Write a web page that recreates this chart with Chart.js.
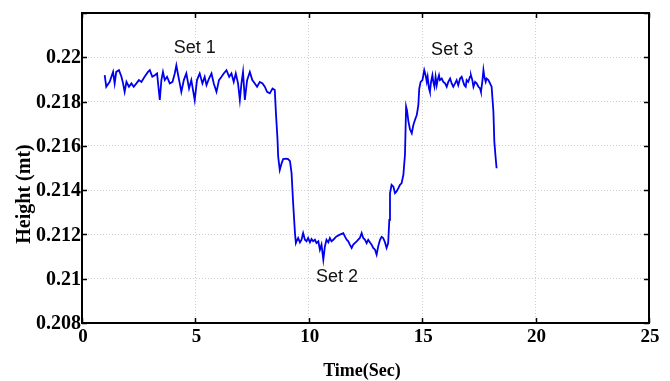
<!DOCTYPE html>
<html>
<head>
<meta charset="utf-8">
<title>Height vs Time</title>
<script src="https://cdn.jsdelivr.net/npm/chart.js@4.4.1/dist/chart.umd.min.js"></script>
<style>
    html, body { margin: 0; padding: 0; background: #ffffff; }
    #wrap { width: 670px; height: 381px; }
</style>
</head>
<body>
<div id="wrap"><canvas id="heightChart" width="670" height="381"></canvas></div>
<script>
    const timeSec = [
        1.00, 1.07, 1.22, 1.37, 1.44, 1.51, 1.63, 1.74, 1.81, 1.88, 1.96, 2.07, 2.18, 2.28, 2.40, 2.51,
        2.62, 2.76, 2.91, 2.99, 3.10, 3.21, 3.31, 3.43, 3.50, 3.57, 3.65, 3.75, 3.87, 3.99, 4.09, 4.16,
        4.24, 4.31, 4.38, 4.49, 4.60, 4.72, 4.82, 4.97, 5.07, 5.19, 5.31, 5.41, 5.49, 5.60, 5.71, 5.81,
        5.93, 6.04, 6.15, 6.25, 6.37, 6.49, 6.59, 6.69, 6.78, 6.88, 6.96, 7.03, 7.10, 7.18, 7.28, 7.40,
        7.51, 7.62, 7.72, 7.84, 7.96, 8.06, 8.16, 8.28, 8.40, 8.50, 8.55, 8.62, 8.65, 8.72, 8.80, 8.87,
        9.00, 9.09, 9.17, 9.24, 9.31, 9.39, 9.43, 9.46, 9.53, 9.61, 9.68, 9.75, 9.83, 9.90, 9.97, 10.05,
        10.12, 10.19, 10.27, 10.34, 10.42, 10.49, 10.56, 10.64, 10.71, 10.78, 10.86, 10.93, 11.00, 11.08,
        11.22, 11.37, 11.52, 11.59, 11.67, 11.74, 11.81, 11.89, 11.96, 12.11, 12.25, 12.33, 12.40, 12.48,
        12.55, 12.62, 12.70, 12.77, 12.84, 12.92, 12.99, 13.06, 13.14, 13.21, 13.28, 13.36, 13.43, 13.50,
        13.55, 13.58, 13.65, 13.73, 13.80, 13.87, 13.95, 14.02, 14.09, 14.17, 14.24, 14.29, 14.33, 14.39,
        14.46, 14.54, 14.61, 14.68, 14.76, 14.83, 14.87, 14.93, 15.01, 15.05, 15.09, 15.15, 15.20, 15.24,
        15.30, 15.34, 15.39, 15.45, 15.49, 15.54, 15.59, 15.64, 15.68, 15.74, 15.78, 15.86, 15.93, 16.01,
        16.08, 16.15, 16.23, 16.30, 16.37, 16.45, 16.52, 16.59, 16.67, 16.74, 16.81, 16.86, 16.92, 16.96,
        17.03, 17.11, 17.15, 17.21, 17.26, 17.33, 17.40, 17.48, 17.55, 17.59, 17.65, 17.70, 17.74, 17.80,
        17.84, 17.92, 17.99, 18.06, 18.14, 18.18, 18.24, 18.28
    ];
    const heightM = [
        0.21919, 0.21867, 0.21889, 0.21934, 0.21882, 0.21934, 0.21942, 0.21912, 0.21882, 0.21844, 0.21889, 0.21867, 0.21882, 0.21867, 0.21882, 0.21897,
        0.21889, 0.21912, 0.21934, 0.21942, 0.21912, 0.21919, 0.21927, 0.21807, 0.21897, 0.21934, 0.21897, 0.21912, 0.21882, 0.21889, 0.21927, 0.21964,
        0.21919, 0.21882, 0.21844, 0.21897, 0.21927, 0.21859, 0.21897, 0.21807, 0.21897, 0.21927, 0.21882, 0.21912, 0.21874, 0.21904, 0.21927, 0.21882,
        0.21844, 0.21897, 0.21912, 0.21927, 0.21942, 0.21912, 0.21927, 0.21889, 0.21927, 0.21882, 0.21807, 0.21882, 0.21934, 0.21807, 0.21897, 0.21934,
        0.21897, 0.21882, 0.21867, 0.21889, 0.21882, 0.21867, 0.21844, 0.21837, 0.21859, 0.21852, 0.21750, 0.21630, 0.21551, 0.21491, 0.21521, 0.21540,
        0.21542, 0.21540, 0.21531, 0.21477, 0.21341, 0.21206, 0.21161, 0.21169, 0.21184, 0.21164, 0.21176, 0.21206, 0.21176, 0.21169, 0.21184, 0.21164,
        0.21179, 0.21169, 0.21176, 0.21161, 0.21169, 0.21131, 0.21154, 0.21086, 0.21146, 0.21176, 0.21164, 0.21184, 0.21169, 0.21176,
        0.21191, 0.21199, 0.21206, 0.21191, 0.21176, 0.21169, 0.21154, 0.21139, 0.21154, 0.21169, 0.21184, 0.21206, 0.21184, 0.21176,
        0.21161, 0.21176, 0.21164, 0.21154, 0.21139, 0.21131, 0.21109, 0.21146, 0.21176, 0.21189, 0.21184, 0.21164, 0.21139, 0.21161,
        0.21266, 0.21386, 0.21424, 0.21416, 0.21386, 0.21394, 0.21409, 0.21424, 0.21431, 0.21469, 0.21560, 0.21777, 0.21760, 0.21712,
        0.21675, 0.21657, 0.21694, 0.21717, 0.21739, 0.21784, 0.21859, 0.21889, 0.21897, 0.21919, 0.21942, 0.21919, 0.21889, 0.21912,
        0.21859, 0.21844, 0.21889, 0.21919, 0.21889, 0.21867, 0.21912, 0.21874, 0.21897, 0.21919, 0.21897, 0.21904, 0.21889, 0.21882,
        0.21867, 0.21889, 0.21904, 0.21882, 0.21867, 0.21882, 0.21897, 0.21874, 0.21904, 0.21912, 0.21889, 0.21874, 0.21867, 0.21897,
        0.21889, 0.21912, 0.21919, 0.21897, 0.21867, 0.21889, 0.21882, 0.21867, 0.21859, 0.21844, 0.21889, 0.21942, 0.21912, 0.21889,
        0.21904, 0.21897, 0.21882, 0.21867, 0.21754, 0.21619, 0.21544, 0.21499
    ];

    // Axis ticks and labels (MATLAB leaves the top 0.222 tick unlabelled)
    const xTicks = [0, 5, 10, 15, 20, 25];
    const xTickLabels = ['0', '5', '10', '15', '20', '25'];
    const yTicks = [0.208, 0.210, 0.212, 0.214, 0.216, 0.218, 0.220, 0.222];
    const yTickLabels = ['0.208', '0.21', '0.212', '0.214', '0.216', '0.218', '0.22', ''];

    // In-plot annotations
    const setNames = ['Set 1', 'Set 2', 'Set 3'];
    const setTime = [4.97, 11.24, 16.32];
    const setHeight = [0.2204, 0.21009, 0.22035];

    const SERIF = '"Liberation Serif", "Times New Roman", serif';
    const SANS = '"Liberation Sans", Arial, sans-serif';

    // MATLAB-like frame: box, inward ticks, tick labels, axis titles, set labels
    const matlabFrame = {
        id: 'matlabFrame',
        afterDatasetsDraw(chart) {
            const ctx = chart.ctx;
            const a = chart.chartArea;
            const xs = chart.scales.x;
            const ys = chart.scales.y;

            ctx.save();
            ctx.strokeStyle = '#000000';
            ctx.lineWidth = 1.5;
            ctx.beginPath();
            xTicks.forEach(v => {
                const px = Math.round(xs.getPixelForValue(v)) + 0.5;
                ctx.moveTo(px, a.bottom); ctx.lineTo(px, a.bottom - 5);
                ctx.moveTo(px, a.top); ctx.lineTo(px, a.top + 5);
            });
            yTicks.forEach(v => {
                const py = Math.round(ys.getPixelForValue(v)) + 0.5;
                ctx.moveTo(a.left, py); ctx.lineTo(a.left + 5, py);
                ctx.moveTo(a.right, py); ctx.lineTo(a.right - 5, py);
            });
            ctx.stroke();

            ctx.lineWidth = 2;
            ctx.strokeRect(a.left, a.top, a.right - a.left, a.bottom - a.top);

            // Tick labels
            ctx.fillStyle = '#000000';
            ctx.font = 'bold 20px ' + SERIF;
            ctx.textBaseline = 'middle';
            ctx.textAlign = 'right';
            yTicks.forEach((v, i) => {
                ctx.fillText(yTickLabels[i], a.left - 1, ys.getPixelForValue(v) + 1);
            });
            ctx.font = 'bold 19px ' + SERIF;
            ctx.textBaseline = 'top';
            ctx.textAlign = 'center';
            xTicks.forEach((v, i) => {
                ctx.fillText(xTickLabels[i], xs.getPixelForValue(v) + 1, a.bottom + 5);
            });

            // Axis titles
            ctx.font = 'bold 18px ' + SERIF;
            ctx.textBaseline = 'middle';
            ctx.fillText('Time(Sec)', 362, 371);

            ctx.save();
            ctx.translate(25, 194);
            ctx.rotate(-Math.PI / 2);
            ctx.font = 'bold 20px ' + SERIF;
            ctx.fillText('Height (mt)', 0, 0);
            ctx.restore();

            // Set labels
            ctx.font = '18px ' + SANS;
            ctx.fillStyle = '#111111';
            setNames.forEach((name, i) => {
                ctx.fillText(name, xs.getPixelForValue(setTime[i]), ys.getPixelForValue(setHeight[i]));
            });
            ctx.restore();
        }
    };

    function initHeightChart() {
        const canvas = document.getElementById('heightChart');
        const points = timeSec.map((t, i) => ({ x: t, y: heightM[i] }));

        return new Chart(canvas, {
            type: 'line',
            data: {
                datasets: [{
                    label: 'Height',
                    data: points,
                    borderColor: '#0000ee',
                    borderWidth: 1.8,
                    pointRadius: 0,
                    tension: 0,
                    fill: false
                }]
            },
            options: {
                responsive: false,
                animation: false,
                layout: { padding: { left: 0, top: 13, right: 21, bottom: 0 } },
                scales: {
                    x: {
                        type: 'linear',
                        min: 0,
                        max: 25,
                        afterBuildTicks: (scale) => { scale.ticks = xTicks.map(v => ({ value: v })); },
                        afterFit: (scale) => { scale.height = 58; },
                        ticks: { display: false },
                        grid: { color: '#cfcfcf', lineWidth: 1, drawTicks: false },
                        border: { display: false, dash: [1, 2] }
                    },
                    y: {
                        type: 'linear',
                        min: 0.208,
                        max: 0.222,
                        afterBuildTicks: (scale) => { scale.ticks = yTicks.map(v => ({ value: v })); },
                        afterFit: (scale) => { scale.width = 82; },
                        ticks: { display: false },
                        grid: { color: '#cfcfcf', lineWidth: 1, drawTicks: false },
                        border: { display: false, dash: [1, 2] }
                    }
                },
                plugins: {
                    legend: { display: false },
                    tooltip: { enabled: false },
                    title: { display: false }
                }
            },
            plugins: [matlabFrame]
        });
    }

    initHeightChart();
</script>
</body>
</html>
